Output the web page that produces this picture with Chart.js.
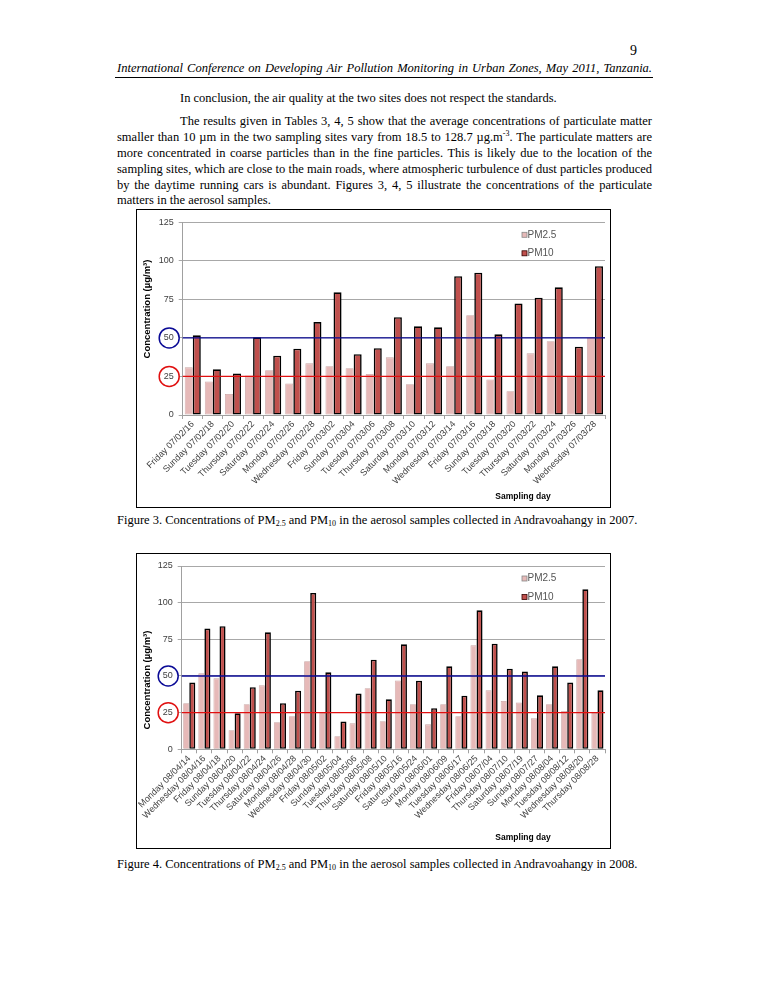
<!DOCTYPE html>
<html>
<head>
<meta charset="utf-8">
<script src="https://cdn.jsdelivr.net/npm/chart.js@4"></script>
<style>
  body { margin: 0; background: #fff; }
  #page { position: relative; width: 765px; height: 990px; background: #fff; color: #000; font-family: 'Liberation Serif', 'Times New Roman', serif; }
  .t { position: absolute; font-size: 12.5px; line-height: 16px; white-space: nowrap; }
  .j { position: absolute; left: 117px; width: 535px; font-size: 12.5px; line-height: 16px; text-align: justify; text-align-last: justify; }
  .box { position: absolute; left: 136px; width: 473px; border: 1px solid #000; background: #fff; }
  .box canvas { display: block; }
  sub { font-size: 8px; vertical-align: -2px; line-height: 0; }
  sup { font-size: 8px; vertical-align: 5px; line-height: 0; }
</style>
</head>
<body>
<div id="page">
  <div class="t" style="left:630px; top:43px; font-size:14px;">9</div>
  <div class="j" style="top:60px; font-style:italic;">International Conference on Developing Air Pollution Monitoring in Urban Zones, May 2011, Tanzania.</div>
  <div style="position:absolute; left:115px; top:77px; width:538px; height:1px; background:#000;"></div>

  <div class="t" style="left:180px; top:90px;">In conclusion, the air quality at the two sites does not respect the standards.</div>

  <div class="j" style="top:113px; left:180px; width:472px;">The results given in Tables 3, 4, 5 show that the average concentrations of particulate matter</div>
  <div class="j" style="top:129px;">smaller than 10 µm in the two sampling sites vary from 18.5 to 128.7 µg.m<sup>-3</sup>. The particulate matters are</div>
  <div class="j" style="top:145px;">more concentrated in coarse particles than in the fine particles. This is likely due to the location of the</div>
  <div class="j" style="top:161px;">sampling sites, which are close to the main roads, where atmospheric turbulence of dust particles produced</div>
  <div class="j" style="top:177px;">by the daytime running cars is abundant. Figures 3, 4, 5 illustrate the concentrations of the particulate</div>
  <div class="t" style="left:117px; top:192px;">matters in the aerosol samples.</div>

  <div class="box" style="top:209px; height:297px;"><canvas id="fig3"></canvas></div>
  <div class="t" style="left:117px; top:512px;">Figure 3. Concentrations of PM<sub>2.5</sub> and PM<sub>10</sub> in the aerosol samples collected in Andravoahangy in 2007.</div>

  <div class="box" style="top:553px; height:294px;"><canvas id="fig4"></canvas></div>
  <div class="t" style="left:117px; top:856px;">Figure 4. Concentrations of PM<sub>2.5</sub> and PM<sub>10</sub> in the aerosol samples collected in Andravoahangy in 2008.</div>
</div>

<script>
// Figure 3 (2007)
const days2007 = ['Friday 07/02/16', 'Sunday 07/02/18', 'Tuesday 07/02/20', 'Thursday 07/02/22', 'Saturday 07/02/24',
  'Monday 07/02/26', 'Wednesday 07/02/28', 'Friday 07/03/02', 'Sunday 07/03/04', 'Tuesday 07/03/06', 'Thursday 07/03/08',
  'Saturday 07/03/10', 'Monday 07/03/12', 'Wednesday 07/03/14', 'Friday 07/03/16', 'Sunday 07/03/18', 'Tuesday 07/03/20',
  'Thursday 07/03/22', 'Saturday 07/03/24', 'Monday 07/03/26', 'Wednesday 07/03/28'];
const pm25_2007 = [30.9, 21.8, 13.6, 25.7, 29.0, 20.5, 33.5, 31.6, 30.3, 26.6, 37.4, 19.9, 33.5, 31.6, 64.7, 23.1, 15.4, 40.0, 47.8, 24.9, 50.4];
const pm10_2007 = [51.7, 29.6, 27.0, 50.4, 38.5, 43.0, 60.3, 79.6, 39.4, 43.3, 63.4, 57.5, 56.9, 90.0, 92.3, 52.3, 72.4, 76.1, 82.8, 44.3, 96.5];

// Figure 4 (2008)
const days2008 = ['Monday 08/04/14', 'Wednesday 08/04/16', 'Friday 08/04/18', 'Sunday 08/04/20', 'Tuesday 08/04/22',
  'Thursday 08/04/24', 'Saturday 08/04/26', 'Monday 08/04/28', 'Wednesday 08/04/30', 'Friday 08/05/02', 'Sunday 08/05/04',
  'Tuesday 08/05/06', 'Thursday 08/05/08', 'Saturday 08/05/10', 'Friday 08/05/16', 'Saturday 08/05/24', 'Sunday 08/06/01',
  'Monday 08/06/09', 'Tuesday 08/06/17', 'Wednesday 08/06/25', 'Friday 08/07/04', 'Thursday 08/07/10', 'Saturday 08/07/19',
  'Sunday 08/07/27', 'Monday 08/08/04', 'Tuesday 08/08/12', 'Wednesday 08/08/20', 'Thursday 08/08/28'];
const pm25_2008 = [31.4, 51.8, 48.4, 13.0, 30.7, 43.6, 18.4, 22.5, 60.0, 24.8, 8.9, 17.7, 41.6, 19.1, 47.0, 30.7, 17.0, 30.7, 22.5, 70.9, 40.2, 33.0, 32.0, 21.1, 30.7, 26.1, 61.4, 24.8];
const pm10_2008 = [45.5, 82.3, 83.9, 24.5, 42.3, 79.8, 31.4, 40.0, 106.6, 52.5, 18.9, 38.0, 61.1, 34.1, 71.6, 46.8, 28.0, 56.6, 36.6, 94.8, 72.0, 55.0, 53.0, 36.8, 56.6, 45.5, 109.1, 40.2];

const yTicks = [0, 25, 50, 75, 100, 125];
const limitValues = [50, 25];          // PM10 and PM2.5 guideline lines
const limitColors = ['#0a0a96', '#e01010'];
const seriesNames = ['PM2.5', 'PM10'];

const FONT = "'Liberation Sans', Arial, sans-serif";
const pinkFill = '#e6b9b8', pinkLine = '#c9a3a2';
const redFill = '#c0504d';

// draws the guideline lines, the circles on the tick labels, the legend and axis titles
const overlay = {
    id: 'overlay',
    afterDatasetsDraw(chart, args, opts) {
        const { ctx, chartArea: a, scales: { y } } = chart;
        ctx.save();
        limitValues.forEach((v, i) => {
            const py = y.getPixelForValue(v);
            ctx.strokeStyle = limitColors[i];
            ctx.lineWidth = 1.3;
            ctx.beginPath();
            ctx.moveTo(a.left, py);
            ctx.lineTo(a.right, py);
            ctx.stroke();
            ctx.lineWidth = 1.5;
            ctx.beginPath();
            ctx.arc(a.left - 13.5, py, 10, 0, Math.PI * 2);
            ctx.stroke();
        });

        // legend inside the plot, top right
        ctx.font = '10px ' + FONT;
        ctx.textBaseline = 'middle';
        ctx.textAlign = 'left';
        const lx = a.right - 83;
        [a.top + 12.5, a.top + 31].forEach((ly, i) => {
            ctx.fillStyle = i === 0 ? pinkFill : redFill;
            ctx.fillRect(lx, ly - 2.5, 5, 5);
            ctx.strokeStyle = i === 0 ? '#888' : '#300';
            ctx.lineWidth = 0.8;
            ctx.strokeRect(lx, ly - 2.5, 5, 5);
            ctx.fillStyle = '#555';
            ctx.fillText(seriesNames[i], lx + 5.5, ly);
        });

        // axis titles
        ctx.fillStyle = '#000';
        ctx.font = 'bold 8.5px ' + FONT;
        ctx.textAlign = 'center';
        ctx.fillText('Sampling day', a.right - 82, chart.height - 10);
        ctx.save();
        ctx.translate(10, opts.yTitleY);
        ctx.rotate(-Math.PI / 2);
        ctx.font = 'bold ' + opts.yTitleSize + 'px ' + FONT;
        ctx.fillText('Concentration (µg/m³)', 0, 0);
        ctx.restore();
        ctx.restore();
    }
};

function makeChart(id, labels, pm25, pm10, w, h, axisW, axisH, padTop, yTitleY, yTitleSize) {
    const cv = document.getElementById(id);
    cv.width = w; cv.height = h;
    cv.style.width = w + 'px'; cv.style.height = h + 'px';
    return new Chart(cv.getContext('2d'), {
        type: 'bar',
        data: {
            labels: labels,
            datasets: [
                {
                    label: seriesNames[0],
                    data: pm25,
                    backgroundColor: pinkFill,
                    borderColor: pinkLine,
                    borderWidth: 0.8,
                    borderSkipped: false,
                    categoryPercentage: 0.8,
                    barPercentage: 1.0
                },
                {
                    label: seriesNames[1],
                    data: pm10,
                    backgroundColor: redFill,
                    borderColor: '#000',
                    borderWidth: 1.6,
                    borderSkipped: false,
                    categoryPercentage: 0.8,
                    barPercentage: 1.0
                }
            ]
        },
        options: {
            responsive: false,
            animation: false,
            devicePixelRatio: 1,
            layout: { padding: { top: padTop, right: 5, left: 0, bottom: 0 } },
            plugins: {
                legend: { display: false },
                tooltip: { enabled: false },
                overlay: { yTitleY: yTitleY, yTitleSize: yTitleSize }
            },
            scales: {
                x: {
                    grid: { drawOnChartArea: false, tickLength: 4, color: '#a0a0a0', offset: true },
                    border: { color: '#a0a0a0' },
                    ticks: {
                        autoSkip: false, maxRotation: 45, minRotation: 45, padding: 0,
                        color: '#404040', font: { size: 9, family: FONT }
                    },
                    afterFit(s) { s.height = axisH; }
                },
                y: {
                    min: 0,
                    max: 125,
                    afterBuildTicks(s) { s.ticks = yTicks.map(v => ({ value: v })); },
                    grid: { color: '#a8a8a8', tickLength: 4 },
                    border: { color: '#a0a0a0' },
                    ticks: { padding: 5, color: '#404040', font: { size: 9, family: FONT } },
                    afterFit(s) { s.width = axisW; }
                }
            }
        },
        plugins: [overlay]
    });
}

makeChart('fig3', days2007, pm25_2007, pm10_2007, 473, 297, 45.7, 92, 12.3, 99, 9.5);
makeChart('fig4', days2008, pm25_2008, pm10_2008, 473, 294, 44.7, 98.7, 12, 126, 9.5);
</script>
</body>
</html>
